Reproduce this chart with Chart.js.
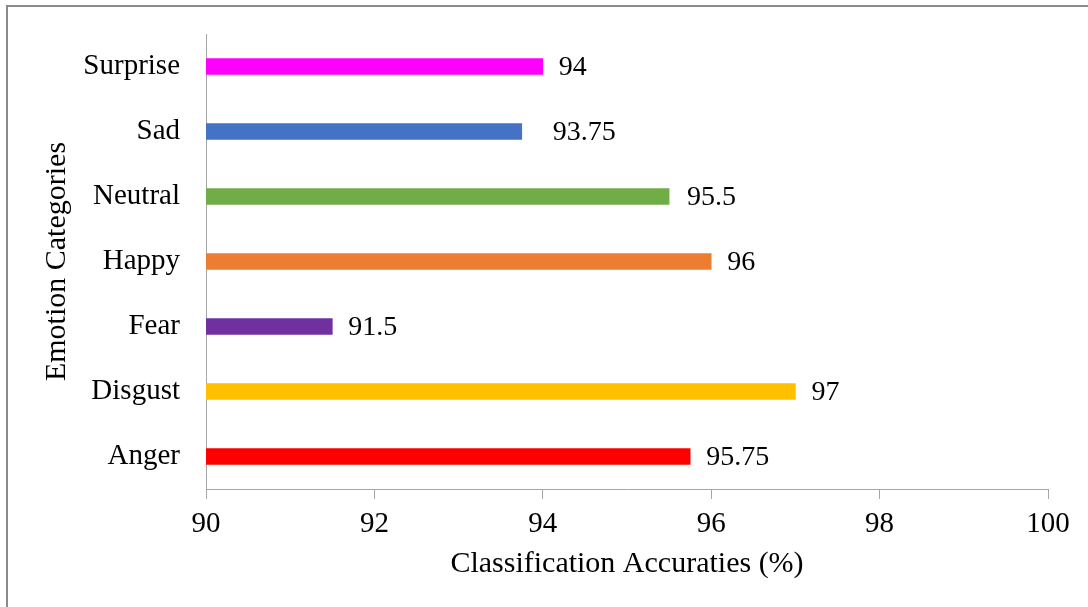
<!DOCTYPE html>
<html>
<head>
<meta charset="utf-8">
<script src="https://cdn.jsdelivr.net/npm/chart.js@4.4.1/dist/chart.umd.min.js"></script>
<style>
  html, body { margin: 0; padding: 0; background: #ffffff; }
  #wrap { position: relative; width: 1088px; height: 607px; }
  canvas { display: block; }
</style>
</head>
<body>
<div id="wrap"><canvas id="chart" width="1088" height="607"></canvas></div>
<script>
// Emotion categories, listed top to bottom
const categories = ['Surprise', 'Sad', 'Neutral', 'Happy', 'Fear', 'Disgust', 'Anger'];
// Classification accuracy per category (%)
const accuracies = [94, 93.75, 95.5, 96, 91.5, 97, 95.75];
// Bar colours per category
const barColors = ['#FF00FF', '#4472C4', '#70AD47', '#ED7D31', '#7030A0', '#FFC000', '#FF0000'];
// Accuracy axis ticks
const xTicks = [90, 92, 94, 96, 98, 100];

const SERIF = "'Liberation Serif', 'Times New Roman', serif";
const AXIS_GREY = '#a6a6a6';

// Thin grey frame along the top and left edges of the figure
const framePlugin = {
  id: 'frame',
  beforeDraw(chart) {
    const ctx = chart.ctx;
    ctx.save();
    ctx.strokeStyle = '#8a8a8a';
    ctx.lineWidth = 2;
    ctx.beginPath();
    ctx.moveTo(7, chart.height);
    ctx.lineTo(7, 6);
    ctx.lineTo(chart.width, 6);
    ctx.stroke();
    ctx.restore();
  }
};

// Value labels at the end of each bar
const valueLabels = {
  id: 'valueLabels',
  afterDatasetsDraw(chart, args, opts) {
    const ctx = chart.ctx;
    const meta = chart.getDatasetMeta(0);
    ctx.save();
    ctx.font = opts.font;
    ctx.fillStyle = opts.color;
    ctx.textAlign = 'left';
    ctx.textBaseline = 'middle';
    meta.data.forEach((bar, i) => {
      const v = chart.data.datasets[0].data[i];
      const nudge = (opts.nudge && opts.nudge[i]) || 0;
      ctx.fillText(String(v), bar.x + opts.offset + nudge, bar.y + 1);
    });
    ctx.restore();
  }
};

new Chart(document.getElementById('chart'), {
  type: 'bar',
  data: {
    labels: categories,
    datasets: [{
      data: accuracies,
      backgroundColor: barColors,
      borderWidth: 0,
      barThickness: 16
    }]
  },
  options: {
    indexAxis: 'y',
    responsive: false,
    animation: false,
    layout: { padding: { top: 34, right: 40, left: 0, bottom: 0 } },
    plugins: {
      legend: { display: false },
      tooltip: { enabled: false },
      valueLabels: {
        font: '28px ' + SERIF,
        color: '#000000',
        offset: 16,
        nudge: [0, 15, 2, 0, 0, 0, 0]
      }
    },
    scales: {
      x: {
        type: 'linear',
        min: 90,
        max: 100,
        afterBuildTicks(scale) { scale.ticks = xTicks.map(v => ({ value: v })); },
        afterFit(scale) { scale.height = 118; },
        grid: { display: true, drawOnChartArea: false, drawTicks: true, tickLength: 10, color: AXIS_GREY, lineWidth: 1 },
        border: { display: true, color: AXIS_GREY, width: 1 },
        ticks: { color: '#000000', font: { family: SERIF, size: 29 }, padding: 8, maxRotation: 0 },
        title: {
          display: true,
          text: 'Classification Accuraties (%)',
          color: '#000000',
          font: { family: SERIF, size: 30 },
          padding: { top: 0, bottom: 25 }
        }
      },
      y: {
        afterFit(scale) { scale.width = 206; },
        // no visible tick marks; the tick length only spaces the labels from the axis
        grid: { display: false, drawTicks: true, tickLength: 26 },
        border: { display: true, color: AXIS_GREY, width: 1 },
        ticks: { color: '#000000', font: { family: SERIF, size: 29 }, padding: 0 },
        title: {
          display: true,
          text: 'Emotion Categories',
          color: '#000000',
          font: { family: SERIF, size: 30 },
          padding: { top: 39, bottom: 0 }
        }
      }
    }
  },
  plugins: [framePlugin, valueLabels]
});
</script>
</body>
</html>
